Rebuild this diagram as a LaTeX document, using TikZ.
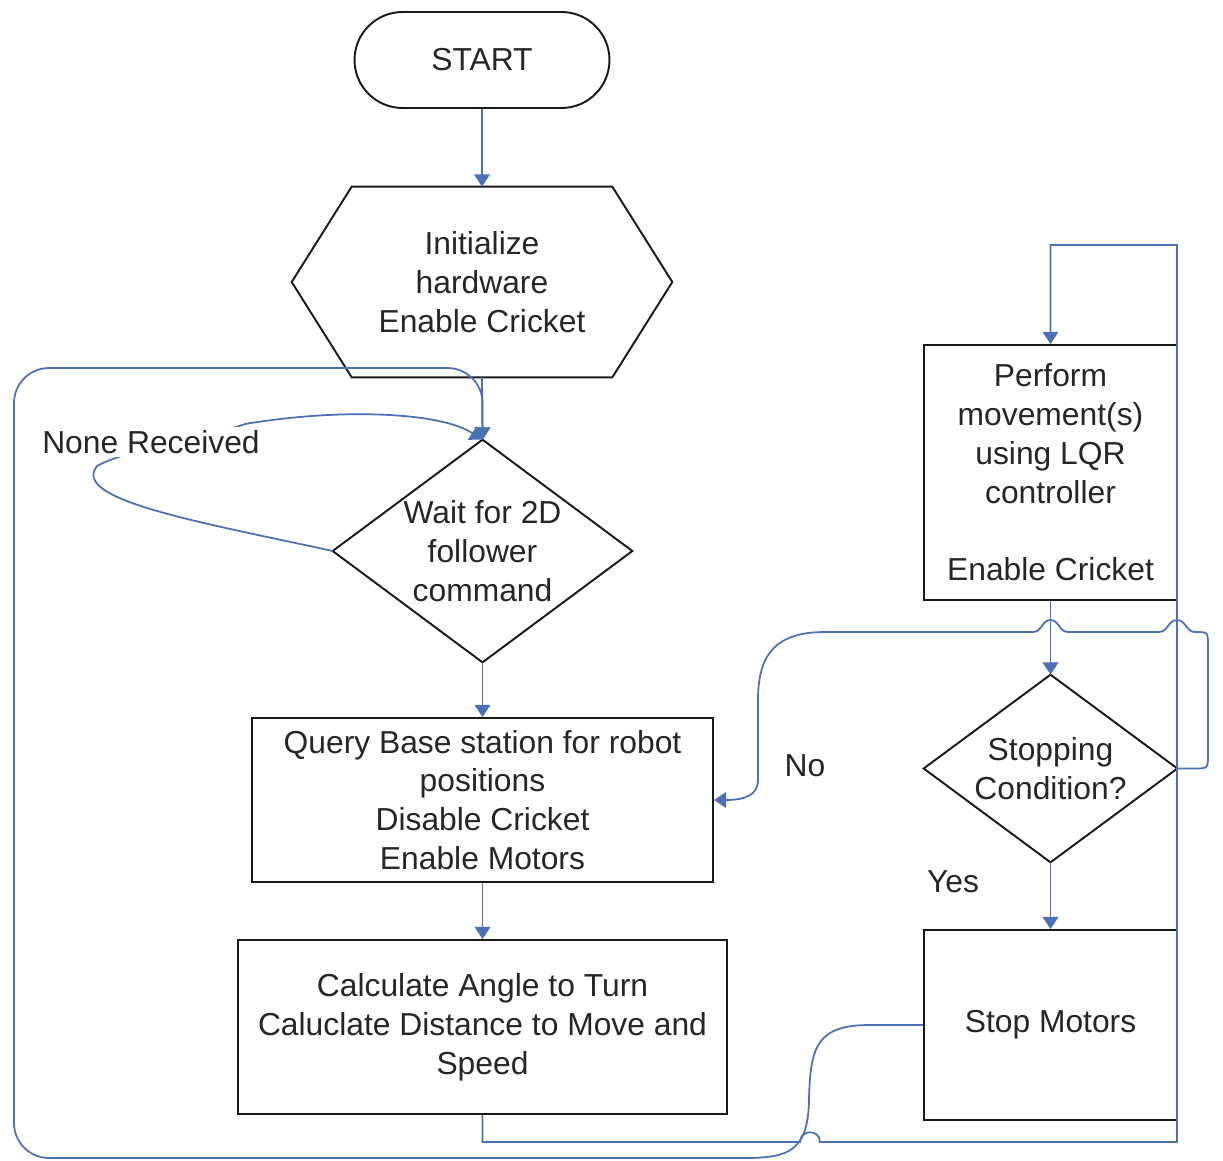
\documentclass[tikz,border=0pt]{standalone}
\usepackage{fontspec}
\setmainfont{Liberation Sans}
\usetikzlibrary{arrows.meta,calc}
\definecolor{linkblue}{RGB}{74,112,184}
\begin{document}
\begin{tikzpicture}[x=0.02cm,y=-0.02cm,
  outline/.style={draw=black!90, line width=1.1pt},
  txt/.style={font=\fontsize{18.1}{22.1}\selectfont, align=center, text=black!85, inner sep=0pt},
  boxed/.style={txt, outline},
  holder/.style={txt},
  wire/.style={draw=linkblue, line width=1pt},
  conn/.style={wire, -{Triangle[width=9pt,length=7pt]}}]

\useasboundingbox (0,0) rectangle (1223,1160);

% ---- left column ----
\node[boxed, rounded corners=0.96cm, minimum width=5.1cm, minimum height=1.92cm] (start) at (482,60) {START};

\node[holder, minimum width=7.6cm, minimum height=3.8cm] (init) at (482,282) {Initialize\\hardware\\Enable Cricket};
\draw[outline] ($(init.north west)+(60,0)$) -- ($(init.north east)+(-60,0)$) -- (init.east)
  -- ($(init.south east)+(-60,0)$) -- ($(init.south west)+(60,0)$) -- (init.west) -- cycle;

\node[holder, minimum width=5.98cm, minimum height=4.44cm] (wait) at (482.5,551) {Wait for 2D\\follower\\command};
\draw[outline] (wait.north) -- (wait.east) -- (wait.south) -- (wait.west) -- cycle;

\node[boxed, minimum width=9.22cm, minimum height=3.28cm] (query) at (482.5,800)
  {Query Base station for robot\\positions\\Disable Cricket\\Enable Motors};

\node[boxed, minimum width=9.78cm, minimum height=3.48cm] (plan) at (482.5,1027)
  {Calculate Angle to Turn\\Caluclate Distance to Move and\\Speed};

% ---- right column ----
\node[boxed, minimum width=5.06cm, minimum height=5.1cm] (move) at (1050.5,472.5)
  {Perform\\movement(s)\\using LQR\\controller\\[22.1pt]Enable Cricket};

\node[holder, minimum width=5.06cm, minimum height=3.74cm] (check) at (1050.5,768.5) {Stopping\\Condition?};
\draw[outline] (check.north) -- (check.east) -- (check.south) -- (check.west) -- cycle;

\node[boxed, minimum width=5.06cm, minimum height=3.8cm] (halt) at (1050.5,1025) {Stop Motors};

% ---- straight flow ----
\draw[conn] (start.south) -- (init.north);
\draw[conn] (init.south) -- (wait.north);
\draw[conn] (wait.south) -- (query.north);
\draw[conn] (query.south) -- (plan.north);
\draw[conn] (move.south) -- (check.north);
\draw[conn] (check.south) -- (halt.north);

% ---- from the computation over to the movement block ----
\draw[conn] (plan.south) -- (482.5,1142) -- (800,1142)
  .. controls (800,1129) and (820,1129) .. (820,1142)
  -- (1177,1142) -- (1177,245) -- (1050.5,245) -- (move.north);

% ---- "No" branch back to the query, hopping over two lines ----
\draw[conn] (check.east) -- (1194,768.5)
  .. controls (1208,768.5) and (1208,768.5) .. (1208,754) -- (1208,646)
  .. controls (1208,632) and (1208,632) .. (1195,632)
  .. controls (1186,632) and (1186,620) .. (1177,620)
  .. controls (1168,620) and (1168,632) .. (1159,632) -- (1068,632)
  .. controls (1059,632) and (1059,620) .. (1050.5,620)
  .. controls (1042,620) and (1042,632) .. (1033,632) -- (825,632)
  .. controls (775,632) and (758,655) .. (758,700) -- (758,780)
  .. controls (758,795) and (745,800) .. (query.east);

% ---- big loop from Stop Motors back to waiting ----
\draw[conn] (halt.west) -- (870,1025)
  .. controls (818,1025) and (810,1045) .. (809,1100)
  .. controls (808,1150) and (790,1158) .. (745,1158)
  [rounded corners=0.7cm] -- (14,1158) -- (14,368) -- (482.5,368) -- (wait.north);

% ---- "None Received" self loop ----
\draw[conn] (wait.west) .. controls (200,522) and (70,500) .. (97,466)
  .. controls (130,448) and (200,440) .. (245,424)
  .. controls (340,408) and (440,412) .. (wait.north);
\node[txt, fill=white, inner sep=2pt] (none) at (151,442) {None Received};

% ---- branch labels ----
\node[txt] (yes) at (953,882) {Yes};
\node[txt] (no) at (805,766) {No};

\end{tikzpicture}
\end{document}
